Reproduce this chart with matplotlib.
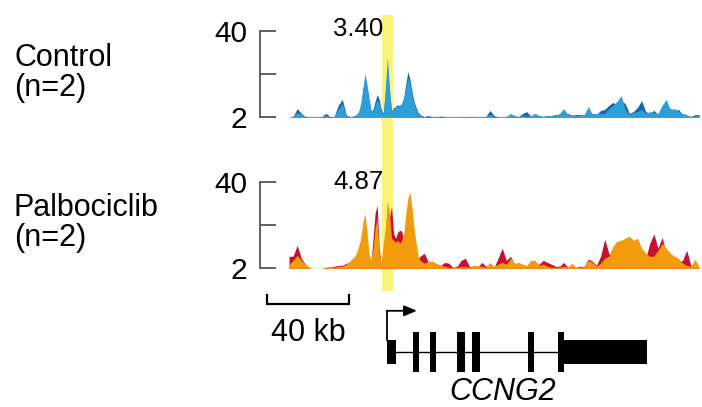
import numpy as np
import matplotlib
matplotlib.use("Agg")
import matplotlib.pyplot as plt
from matplotlib.patches import Rectangle, FancyArrowPatch

plt.rcParams['font.family'] = ['Liberation Sans', 'DejaVu Sans']

# ---------------- data ----------------
# genomic bin positions (kb): 2-kb bins, 1-kb bins around the peak cluster
track_kb = list(range(0, 31, 2)) + list(range(31, 65)) + list(range(66, 201, 2))

ctrl_rep1 = [2.0, 2.4, 4.2, 3.3, 2.4, 2.2, 2.2, 2.2, 2.4, 2.9, 2.4, 2.4, 5.5, 8.1, 2.4, 2.4,
             2.4, 2.9, 3.3, 4.6, 8.1, 13.4, 21.3, 16.9, 10.8, 5.5, 4.6, 7.3, 9.9, 8.1, 4.6, 3.3,
             15.1, 28.3, 15.1, 5.5, 5.5, 7.3, 6.4, 7.7, 7.3, 9.9, 15.1, 19.5, 16.9, 12.5, 8.1,
             5.5, 3.8, 2.9,
             2.4, 2.4, 2.2, 2.4, 2.7, 2.4, 2.2,
             2.2, 2.2, 2.4, 2.2, 2.4, 2.4, 2.2, 2.4, 2.4, 3.3,
             2.4, 2.2, 2.2, 2.4, 3.8, 2.9, 2.4, 2.9, 2.4, 2.9,
             3.8, 2.9, 2.4, 2.9, 2.9, 2.9, 3.8, 5.9, 3.3, 3.3,
             2.9, 2.9, 3.3, 6.8, 3.3, 3.8, 3.8, 3.8, 5.9, 7.3,
             9.0, 11.6, 5.5, 3.3, 4.2, 4.6, 5.5, 3.8, 4.6, 4.2,
             3.8, 7.3, 9.9, 5.5, 5.9, 4.6, 3.8, 3.3, 2.4, 2.9,
             2.9]
ctrl_rep2 = [2.0, 2.4, 5.9, 3.8, 2.4, 2.2, 2.2, 2.2, 2.4, 3.8, 2.4, 2.4, 7.3, 9.9, 2.9, 2.4,
             2.4, 2.9, 3.3, 4.2, 7.3, 14.3, 19.5, 15.1, 9.0, 4.6, 5.5, 9.0, 12.1, 9.9, 5.5, 3.8,
             12.5, 23.9, 12.5, 4.6, 6.4, 6.4, 7.7, 6.8, 8.1, 10.8, 16.9, 22.1, 18.6, 13.4, 9.0,
             6.4, 4.2, 3.3,
             2.4, 2.9, 2.2, 2.4, 2.4, 2.2, 2.2,
             2.2, 2.2, 2.2, 2.2, 2.4, 2.4, 2.2, 2.2, 2.4, 5.1,
             2.9, 2.2, 2.2, 2.4, 2.4, 2.4, 2.4, 3.8, 4.6, 2.4,
             2.9, 2.9, 2.4, 2.9, 2.9, 3.3, 2.9, 3.3, 3.8, 2.9,
             3.3, 3.3, 2.9, 3.3, 3.8, 3.3, 5.1, 5.5, 7.3, 8.6,
             7.3, 9.4, 8.1, 3.8, 4.6, 6.4, 9.4, 4.6, 3.8, 5.1,
             3.3, 4.6, 6.4, 5.9, 5.1, 5.5, 3.3, 2.9, 2.4, 3.3,
             3.3]
palbo_rep1 = [3.8, 5.5, 7.7, 5.5, 3.8, 2.4, 2.0, 2.0, 2.0, 2.4, 2.9, 2.4, 2.9, 2.9, 3.8, 5.5,
              6.4, 7.3, 9.0, 11.7, 15.2, 21.8, 26.2, 18.7, 8.6, 5.5, 10.8, 19.6, 24.0, 8.6, 4.2,
              13.0, 19.6, 31.5, 26.2, 15.2, 14.3, 13.4, 14.3, 13.0, 14.3, 17.4, 26.2, 32.8,
              35.4, 28.4, 19.6, 13.0, 7.3, 5.5,
              4.2, 5.1, 5.1, 4.2, 3.3, 2.9, 2.4,
              2.4, 2.4, 2.9, 2.9, 2.4, 3.3, 3.3, 2.9, 2.4, 4.6,
              2.9, 3.8, 4.6, 3.8, 6.4, 4.2, 4.6, 3.8, 3.3, 5.5,
              5.5, 3.3, 3.8, 2.9, 2.4, 2.4, 2.4, 2.9, 2.4, 4.2,
              2.4, 2.4, 2.9, 5.5, 4.6, 2.9, 4.2, 6.4, 7.3, 11.7,
              13.9, 14.3, 15.2, 16.1, 14.3, 15.2, 10.8, 8.6, 7.3, 7.3,
              9.9, 13.0, 10.8, 8.6, 7.3, 6.4, 4.2, 3.3, 2.9, 6.0,
              2.9]
palbo_rep2 = [7.3, 7.3, 12.1, 6.4, 3.8, 2.0, 2.0, 2.0, 2.0, 2.4, 2.4, 2.9, 3.3, 3.3, 4.2, 4.6,
              5.1, 6.0, 7.3, 8.6, 10.8, 14.3, 15.2, 11.7, 6.4, 4.6, 15.2, 26.2, 29.7, 10.8, 3.8,
              9.9, 17.4, 29.3, 24.0, 29.3, 17.4, 15.2, 17.8, 18.7, 18.3, 13.0, 10.8, 11.7,
              10.8, 9.9, 8.2, 7.3, 6.4, 7.3,
              8.6, 4.6, 3.8, 3.3, 3.3, 4.6, 4.2,
              2.4, 2.9, 5.5, 6.4, 2.9, 2.4, 2.4, 4.6, 2.9, 2.9,
              2.4, 6.4, 10.8, 5.5, 7.3, 3.8, 2.9, 2.9, 2.4, 3.3,
              3.8, 3.8, 5.5, 4.6, 3.8, 2.9, 2.9, 4.6, 2.4, 2.4,
              2.4, 2.9, 2.9, 6.0, 5.1, 3.3, 7.3, 14.8, 8.6, 6.4,
              7.3, 6.4, 7.3, 8.2, 7.3, 8.2, 7.3, 6.4, 13.0, 17.0,
              10.8, 15.6, 8.6, 6.4, 5.5, 4.6, 5.5, 9.9, 3.3, 3.3,
              2.4]
y_min, y_mid, y_max = 2, 21, 40
track_names = [("Control", "(n=2)"), ("Palbociclib", "(n=2)")]
highlight_values = ["3.40", "4.87"]
highlight_kb = (45.4, 50.7)

# gene model (kb)
utr5_exon = (47.8, 52.2)
cds_exon_start = [60.5, 68.8, 82.0, 89.3, 116.6, 131.2]
cds_exon_end = [63.4, 71.7, 85.9, 93.2, 119.5, 134.1]
utr3_exon = (134.1, 174.6)
tss_kb = 47.9
tss_arrow_end_kb = 62.4
gene_name = "CCNG2"
gene_label_kb = 104.4
scale_start_kb = -10.7
scale_len_kb = 40

bins_kb = np.array(track_kb, dtype=float)

# ---------------- layout ----------------
W, H = 702, 407
fig = plt.figure(figsize=(W / 100, H / 100), dpi=100)


def rect(x0, y0, x1, y1):
    return [x0 / W, 1 - y1 / H, (x1 - x0) / W, (y1 - y0) / H]


def px2kb(px):
    return (px - 289) / 2.05


XLIM = (px2kb(260), px2kb(702))
FS = 22
DARK = '#1466b0'
LIGHT = '#2a9fda'
RED = '#c8102e'
ORANGE = '#f29b0c'

# highlight band (behind tracks)
axh = fig.add_axes(rect(260, 0, 702, 407), zorder=0)
axh.set_xlim(XLIM)
axh.set_ylim(0, 1)
axh.axis('off')
axh.axvspan(highlight_kb[0], highlight_kb[1], ymin=1 - 291 / H, ymax=1 - 15 / H,
            color='#fbf27c', lw=0)


def track(top, bottom, lo, hi, c_lo, c_hi):
    ax = fig.add_axes(rect(260, top, 702, bottom), zorder=1)
    ax.patch.set_alpha(0)
    ax.set_xlim(XLIM)
    ax.set_ylim(y_min, y_max)
    ax.fill_between(bins_kb, y_min, lo, color=c_lo, lw=0)
    ax.fill_between(bins_kb, y_min, hi, color=c_hi, lw=0)
    ax.plot([bins_kb[0], bins_kb[-1]], [y_min, y_min], color='#9a9a9a', lw=1.0)
    for s in ['top', 'right', 'bottom']:
        ax.spines[s].set_visible(False)
    ax.spines['left'].set_color('#555555')
    ax.spines['left'].set_linewidth(1.3)
    ax.set_xticks([])
    ax.set_yticks([y_min, y_mid, y_max])
    ax.set_yticklabels([str(y_min), '', str(y_max)])
    ax.tick_params(axis='y', direction='in', length=11.5, width=1.3,
                   color='#555555', pad=9, labelsize=21.5)
    return ax


ax1 = track(30.7, 117.5, ctrl_rep2, ctrl_rep1, DARK, LIGHT)
ax2 = track(181.7, 268.3, palbo_rep2, palbo_rep1, RED, ORANGE)

# labels
for (l1, l2), b1, b2 in zip(track_names, [66, 215.7], [96, 246]):
    fig.text(14 / W, 1 - b1 / H, l1, fontsize=FS, va='baseline')
    fig.text(14 / W, 1 - b2 / H, l2, fontsize=FS, va='baseline')
fig.text(358 / W, 1 - 36 / H, highlight_values[0], fontsize=18.5, ha='center', va='baseline')
fig.text(358 / W, 1 - 189 / H, highlight_values[1], fontsize=18.5, ha='center', va='baseline')

# gene model
axg = fig.add_axes(rect(260, 292, 702, 412), zorder=1)
axg.patch.set_alpha(0)
axg.set_xlim(XLIM)
axg.set_ylim(-1.5, 1.5)
axg.axis('off')
axg.plot([utr5_exon[1], cds_exon_end[-1]], [0, 0], color='k', lw=1.0)
axg.add_patch(Rectangle((utr5_exon[0], -0.31), utr5_exon[1] - utr5_exon[0], 0.62,
                        color='k', lw=0))
for s, e in zip(cds_exon_start, cds_exon_end):
    axg.add_patch(Rectangle((s, -0.51), e - s, 1.02, color='k', lw=0))
axg.add_patch(Rectangle((utr3_exon[0], -0.31), utr3_exon[1] - utr3_exon[0], 0.62,
                        color='k', lw=0))
axg.plot([tss_kb, tss_kb], [0.3, 1.03], color='k', lw=1.3, solid_capstyle='projecting')
axg.add_patch(FancyArrowPatch((tss_kb, 1.03), (tss_arrow_end_kb, 1.03),
                              arrowstyle='-|>,head_length=0.55,head_width=0.23',
                              mutation_scale=14, lw=1.3, color='k',
                              shrinkA=0, shrinkB=0))
axg.text(gene_label_kb, -1.2, gene_name, fontsize=FS, style='italic',
         ha='center', va='baseline')

# scale bar
axg.plot([scale_start_kb, scale_start_kb + scale_len_kb], [1.2, 1.2], color='k', lw=1.6,
         solid_capstyle='butt')
axg.plot([scale_start_kb, scale_start_kb], [1.2, 1.42], color='k', lw=1.6)
axg.plot([scale_start_kb + scale_len_kb] * 2, [1.2, 1.42], color='k', lw=1.6)
axg.text(scale_start_kb + scale_len_kb / 2, 0.275, f"{scale_len_kb} kb", fontsize=FS,
         ha='center', va='baseline')

fig.savefig('out.png', dpi=100)
